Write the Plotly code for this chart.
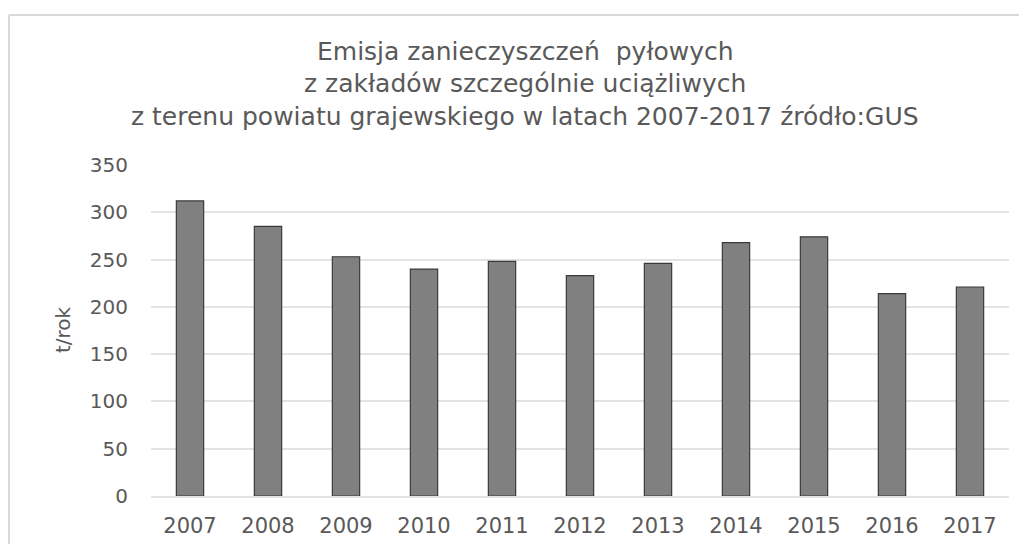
import plotly.graph_objects as go

years = ["2007", "2008", "2009", "2010", "2011", "2012", "2013", "2014", "2015", "2016", "2017"]
emission = [312, 285, 253, 240, 248, 233, 246, 268, 274, 214, 221]
y_ticks = [0, 50, 100, 150, 200, 250, 300, 350]
title_lines = [
    "Emisja zanieczyszczeń  pyłowych",
    "z zakładów szczególnie uciążliwych",
    "z terenu powiatu grajewskiego w latach 2007-2017 źródło:GUS",
]

FONT = "DejaVu Sans"
TXT = "#595959"

# plot area in figure pixels
L, T, PW, PH = 143, 157, 858, 331


def px(x):
    return (x - L) / PW


def py(y):
    return (T + PH - y) / PH


fig = go.Figure(
    go.Bar(
        x=years,
        y=emission,
        marker=dict(color="#808080", line=dict(color="#3a3a3a", width=1.2)),
    )
)

annotations = []
for i, (line, yc) in enumerate(zip(title_lines, [43, 76, 108])):
    annotations.append(
        dict(
            text=line, xref="paper", yref="paper", x=px(517), y=py(yc),
            showarrow=False, xanchor="center", yanchor="middle",
            font=dict(family=FONT, size=25, color=TXT),
        )
    )
annotations.append(
    dict(
        text="t/rok", xref="paper", yref="paper", x=px(55), y=py(322),
        showarrow=False, textangle=-90, xanchor="center", yanchor="middle",
        font=dict(family=FONT, size=20, color=TXT),
    )
)

fig.update_layout(
    width=1019,
    height=536,
    margin=dict(l=L, r=18, t=T, b=48),
    paper_bgcolor="white",
    plot_bgcolor="white",
    bargap=0.65,
    showlegend=False,
    annotations=annotations,
    shapes=[
        dict(type="line", xref="paper", yref="paper", x0=px(1), x1=1.05,
             y0=py(7), y1=py(7), line=dict(color="#d9d9d9", width=2)),
        dict(type="line", xref="paper", yref="paper", x0=px(1), x1=px(1),
             y0=-0.2, y1=py(7), line=dict(color="#d9d9d9", width=2)),
    ],
    xaxis=dict(
        type="category",
        tickfont=dict(family=FONT, size=21, color=TXT),
        showgrid=False,
        showline=True,
        linecolor="#e3e3e3",
        linewidth=1.5,
        ticks="",
        ticklabelstandoff=10,
        automargin=False,
    ),
    yaxis=dict(
        range=[0, 350],
        tickvals=y_ticks,
        tickfont=dict(family=FONT, size=20, color=TXT),
        showgrid=True,
        gridcolor="#e3e3e3",
        gridwidth=1.5,
        zeroline=False,
        showline=False,
        ticks="",
        ticklabelstandoff=22,
        automargin=False,
    ),
)

fig.write_html("out.html")
